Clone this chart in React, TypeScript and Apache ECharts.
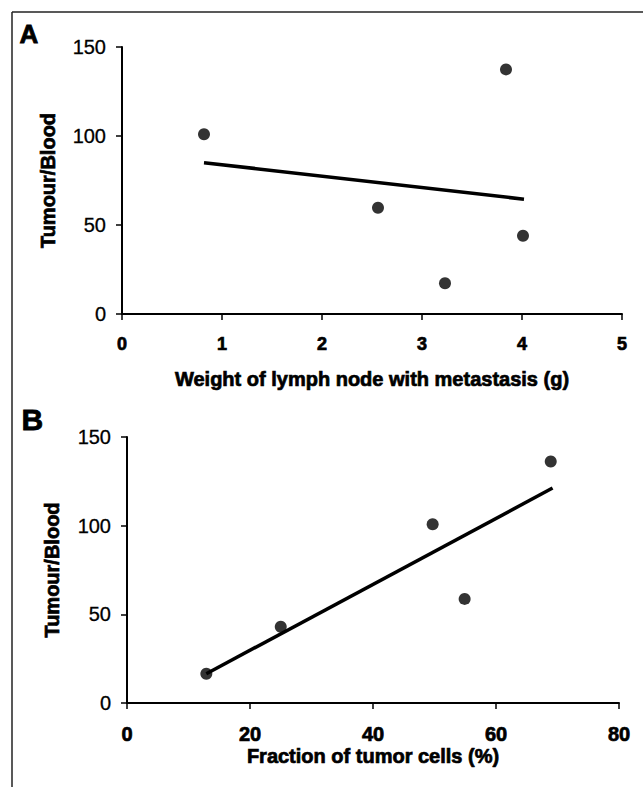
import React, { useEffect, useRef } from "react";
import * as echarts from "echarts";

// Panel A: weight of lymph node (g) vs Tumour/Blood
const weightA = [0.82, 2.56, 3.23, 3.84, 4.01];
const ratioA = [101, 59.7, 17.3, 137.4, 44];
const fitAx = [0.82, 4.02];
const fitAy = [85, 64.5];

// Panel B: fraction of tumor cells (%) vs Tumour/Blood
const fractionB = [12.9, 25, 49.7, 54.9, 68.9];
const ratioB = [16.5, 43, 100.8, 58.7, 136.2];
const fitBx = [12.9, 69.2];
const fitBy = [16.5, 121.2];

const yTicks = [0, 50, 100, 150];
const xTicksA = [0, 1, 2, 3, 4, 5];
const xTicksB = [0, 20, 40, 60, 80];

const FONT = "'Liberation Sans', Arial, Helvetica, sans-serif";
const INK = "#000";

const heavy = { textBorderColor: INK, textBorderWidth: 0.7 };

function axisBase() {
  return {
    axisLine: { show: true, onZero: false, lineStyle: { color: INK, width: 2 } },
    axisTick: { show: true, inside: false, length: 6, lineStyle: { color: INK, width: 1.5 } },
    splitLine: { show: false },
  };
}

export default function App() {
  const ref = useRef<HTMLDivElement>(null);
  useEffect(() => {
    if (!ref.current) return;
    const chart = echarts.init(ref.current, null, { renderer: "svg" });
    const zip = (a: number[], b: number[]) => a.map((v, i) => [v, b[i]]);
    const yAxisCfg = (gi: number) => ({
      ...axisBase(),
      type: "value",
      gridIndex: gi,
      min: yTicks[0],
      max: yTicks[yTicks.length - 1],
      interval: 50,
      name: "Tumour/Blood",
      nameLocation: "middle",
      nameGap: gi === 0 ? 64 : 65,
      nameTextStyle: { fontFamily: FONT, fontSize: 20, fontWeight: "bold", color: INK, ...heavy },
      axisLabel: { fontFamily: FONT, fontSize: 20, color: INK, margin: 16, textBorderColor: INK, textBorderWidth: 0.3 },
    });
    chart.setOption({
      animation: false,
      backgroundColor: "#fff",
      grid: [
        { left: 122, top: 47, width: 500, height: 267 },
        { left: 127, top: 437, width: 492, height: 266 },
      ],
      xAxis: [
        {
          ...axisBase(),
          type: "value",
          gridIndex: 0,
          min: xTicksA[0],
          max: xTicksA[xTicksA.length - 1],
          interval: 1,
          name: "Weight of lymph node with metastasis (g)",
          nameLocation: "middle",
          nameGap: 55,
          nameTextStyle: { fontFamily: FONT, fontSize: 20, fontWeight: "bold", color: INK, ...heavy },
          axisLabel: { fontFamily: FONT, fontSize: 18, fontWeight: "bold", color: INK, margin: 21, ...heavy },
        },
        {
          ...axisBase(),
          type: "value",
          gridIndex: 1,
          min: xTicksB[0],
          max: xTicksB[xTicksB.length - 1],
          interval: 20,
          name: "Fraction of tumor cells (%)",
          nameLocation: "middle",
          nameGap: 41,
          nameTextStyle: { fontFamily: FONT, fontSize: 20, fontWeight: "bold", color: INK, ...heavy },
          axisLabel: { fontFamily: FONT, fontSize: 20, fontWeight: "bold", color: INK, margin: 21, ...heavy },
        },
      ],
      yAxis: [yAxisCfg(0), yAxisCfg(1)],
      series: [
        {
          type: "line",
          xAxisIndex: 0,
          yAxisIndex: 0,
          data: zip(fitAx, fitAy),
          showSymbol: false,
          lineStyle: { color: INK, width: 3.5 },
        },
        {
          type: "scatter",
          xAxisIndex: 0,
          yAxisIndex: 0,
          data: zip(weightA, ratioA),
          symbol: "circle",
          symbolSize: 12,
          itemStyle: { color: INK },
        },
        {
          type: "line",
          xAxisIndex: 1,
          yAxisIndex: 1,
          data: zip(fitBx, fitBy),
          showSymbol: false,
          lineStyle: { color: INK, width: 3.5 },
        },
        {
          type: "scatter",
          xAxisIndex: 1,
          yAxisIndex: 1,
          data: zip(fractionB, ratioB),
          symbol: "circle",
          symbolSize: 12,
          itemStyle: { color: INK },
        },
      ],
      graphic: [
        { type: "line", shape: { x1: 12, y1: 12, x2: 643, y2: 12 }, style: { stroke: "#222", lineWidth: 1.5 } },
        { type: "line", shape: { x1: 12, y1: 12, x2: 12, y2: 787 }, style: { stroke: "#222", lineWidth: 1.5 } },
        {
          type: "text",
          left: 19,
          top: 21,
          style: { text: "A", fontFamily: FONT, fontSize: 26, fontWeight: "bold", fill: INK, stroke: INK, lineWidth: 0.8 },
        },
        {
          type: "text",
          left: 21,
          top: 404,
          style: { text: "B", fontFamily: FONT, fontSize: 30, fontWeight: "bold", fill: INK, stroke: INK, lineWidth: 0.8 },
        },
      ],
    });
    return () => chart.dispose();
  }, []);
  return (
    <div
      ref={ref}
      style={{ position: "fixed", left: 0, top: 0, width: 643, height: 787, background: "#fff" }}
    />
  );
}
